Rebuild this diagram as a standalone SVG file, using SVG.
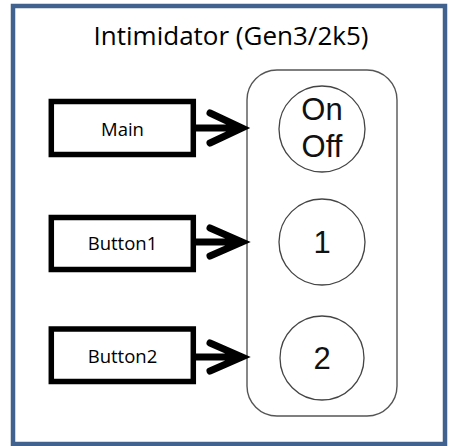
<svg xmlns="http://www.w3.org/2000/svg" width="450" height="446" viewBox="0 0 450 446">
<style>
.box{fill:#fff;stroke:#000;stroke-width:5.5}
.lbl{font-family:"Open Sans","Liberation Sans",sans-serif;font-size:18.5px;fill:#000;text-anchor:middle}
.btn{fill:#fff;stroke:#444;stroke-width:1.3}
.btxt{font-family:"Liberation Sans",Arial,sans-serif;font-size:31px;fill:#111;text-anchor:middle}
.arr{fill:none;stroke:#000;stroke-width:7;stroke-linecap:round;stroke-linejoin:miter}
</style>
<rect x="0" y="0" width="450" height="446" fill="#fff"/>
<rect x="13" y="6" width="432" height="438" fill="#fff" stroke="#41628f" stroke-width="4.5"/>
<text x="231" y="45" font-family="Open Sans,Liberation Sans,sans-serif" font-size="26" text-anchor="middle" fill="#000">Intimidator (Gen3/2k5)</text>
<g id="panel">
<rect x="247" y="70" width="150" height="346" rx="30" ry="30" fill="#fff" stroke="#555" stroke-width="1.4"/>
</g>
<g id="onoff">
<circle class="btn" cx="322" cy="129" r="43"/>
<text class="btxt" x="322" y="120">On</text>
<text class="btxt" x="322" y="157">Off</text>
</g>
<g id="b1">
<circle class="btn" cx="322" cy="242" r="43"/>
<text class="btxt" x="322" y="253">1</text>
</g>
<g id="b2">
<circle class="btn" cx="322" cy="358" r="42"/>
<text class="btxt" x="322" y="369">2</text>
</g>
<g id="main">
<rect class="box" x="51.3" y="101.5" width="142" height="53"/>
<text class="lbl" x="122.5" y="135.5">Main</text>
</g>
<g id="button1">
<rect class="box" x="51.3" y="217.5" width="142" height="52"/>
<text class="lbl" x="122.5" y="250">Button1</text>
</g>
<g id="button2">
<rect class="box" x="51.3" y="329" width="142" height="52.5"/>
<text class="lbl" x="122.5" y="362.5">Button2</text>
</g>
<g id="connectors">
<path class="arr" d="M196 128H238M210 113L242 128L210 143"/>
<path class="arr" d="M196 242H238M210 228L242 242L210 256"/>
<path class="arr" d="M196 357H238M210 343L242 357L210 371"/>
</g>
</svg>
